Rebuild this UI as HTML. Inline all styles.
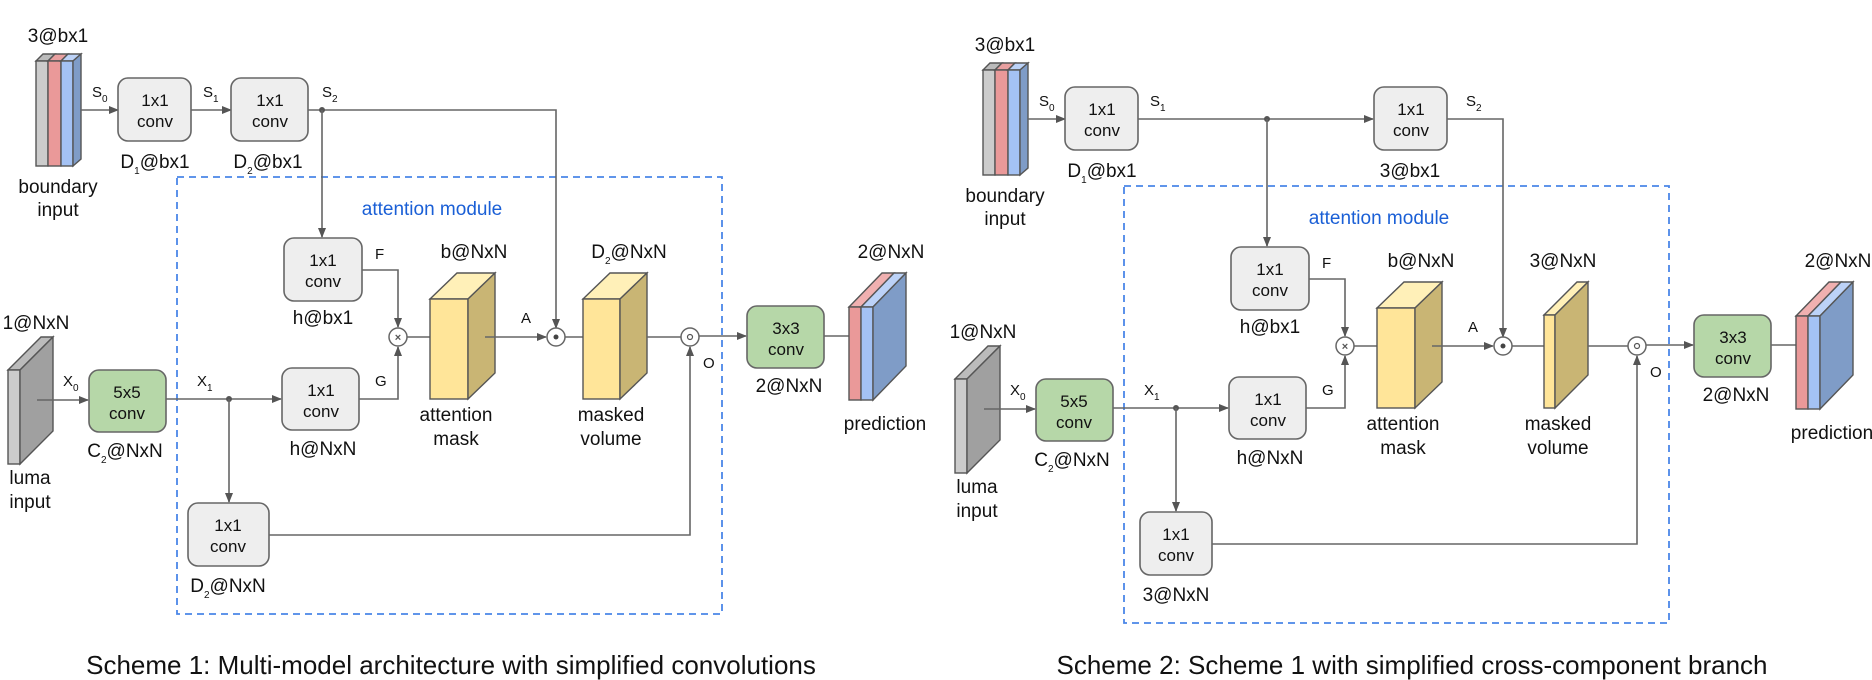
<!DOCTYPE html>
<html><head><meta charset="utf-8"><style>
html,body{margin:0;padding:0;background:#fff;}
svg{display:block;}
text{font-family:"Liberation Sans",Arial,sans-serif;fill:#111;}
.bx{fill:#eeeeee;stroke:#666;stroke-width:1.6;}
.gr{fill:#b6d7a8;stroke:#666;stroke-width:1.6;}
.ln{stroke:#666;stroke-width:1.6;fill:none;}
.sh{stroke:#555;stroke-width:1.4;}
.t{font-size:17px;text-anchor:middle;}
.l{font-size:19px;text-anchor:middle;}
.s{font-size:15px;}
.sub{font-size:10px;}
.cap{font-size:26px;text-anchor:middle;}
</style></head><body>
<svg width="1872" height="680" viewBox="0 0 1872 680" xmlns="http://www.w3.org/2000/svg">
<defs>
<marker id="ar" markerWidth="10" markerHeight="10" refX="9" refY="5" orient="auto" markerUnits="userSpaceOnUse">
<path d="M0,1 L10,5 L0,9 z" fill="#555"/></marker>
</defs>

<!-- ============ SCHEME 1 ============ -->
<g id="s1">
<rect x="177" y="177" width="545" height="437" fill="none" stroke="#4a86e8" stroke-width="1.8" stroke-dasharray="7,5"/>
<text x="432" y="215" class="l" style="fill:#1a5fd6">attention module</text>

<text x="58" y="42" class="l">3@bx1</text>
<g class="sh">
<polygon points="36,61 43,54 55,54 48,61" fill="#bbb"/>
<rect x="36" y="61" width="12" height="105" fill="#ccc"/>
<polygon points="48,61 55,54 68,54 61,61" fill="#e8a0a0"/>
<rect x="48" y="61" width="13" height="105" fill="#ea9999"/>
<polygon points="61,61 68,54 81,54 73,61" fill="#bcd2f7"/>
<rect x="61" y="61" width="12" height="105" fill="#a4c2f4"/>
<polygon points="73,61 81,54 81,159 73,166" fill="#7f9cc7"/>
</g>
<text x="58" y="193" class="l">boundary</text>
<text x="58" y="216" class="l">input</text>

<line x1="81" y1="110" x2="118" y2="110" class="ln" marker-end="url(#ar)"/>
<text x="92" y="97" class="s">S<tspan class="sub" dy="5">0</tspan></text>
<rect x="118" y="78" width="73" height="63" rx="10" class="bx"/>
<text x="155" y="106" class="t">1x1</text><text x="155" y="127" class="t">conv</text>
<text x="155" y="168" class="l">D<tspan class="sub" dy="6">1</tspan><tspan dy="-6">@bx1</tspan></text>
<line x1="191" y1="110" x2="231" y2="110" class="ln" marker-end="url(#ar)"/>
<text x="203" y="97" class="s">S<tspan class="sub" dy="5">1</tspan></text>
<rect x="231" y="78" width="77" height="63" rx="10" class="bx"/>
<text x="270" y="106" class="t">1x1</text><text x="270" y="127" class="t">conv</text>
<text x="268" y="168" class="l">D<tspan class="sub" dy="6">2</tspan><tspan dy="-6">@bx1</tspan></text>
<text x="322" y="97" class="s">S<tspan class="sub" dy="5">2</tspan></text>
<polyline points="308,110 556,110 556,328" class="ln" marker-end="url(#ar)"/>
<circle cx="322" cy="110" r="3" fill="#555"/>
<line x1="322" y1="110" x2="322" y2="237" class="ln" marker-end="url(#ar)"/>

<rect x="284" y="238" width="78" height="63" rx="10" class="bx"/>
<text x="323" y="266" class="t">1x1</text><text x="323" y="287" class="t">conv</text>
<text x="323" y="324" class="l">h@bx1</text>
<text x="375" y="259" class="s">F</text>
<polyline points="362,270 398,270 398,327" class="ln" marker-end="url(#ar)"/>

<text x="36" y="329" class="l">1@NxN</text>
<g class="sh">
<polygon points="8,370 41,337 53,337 20,370" fill="#bbb"/>
<rect x="8" y="370" width="12" height="94" fill="#ccc"/>
<polygon points="20,370 53,337 53,431 20,464" fill="#a0a0a0"/>
</g>
<text x="30" y="484" class="l">luma</text>
<text x="30" y="508" class="l">input</text>
<line x1="37" y1="400" x2="88" y2="400" class="ln" marker-end="url(#ar)"/>
<text x="63" y="386" class="s">X<tspan class="sub" dy="5">0</tspan></text>
<rect x="89" y="370" width="77" height="62" rx="10" class="gr"/>
<text x="127" y="398" class="t">5x5</text><text x="127" y="419" class="t">conv</text>
<text x="125" y="457" class="l">C<tspan class="sub" dy="6">2</tspan><tspan dy="-6">@NxN</tspan></text>
<line x1="166" y1="399" x2="281" y2="399" class="ln" marker-end="url(#ar)"/>
<text x="197" y="386" class="s">X<tspan class="sub" dy="5">1</tspan></text>
<circle cx="229" cy="399" r="3" fill="#555"/>
<line x1="229" y1="399" x2="229" y2="502" class="ln" marker-end="url(#ar)"/>

<rect x="282" y="368" width="77" height="62" rx="10" class="bx"/>
<text x="321" y="396" class="t">1x1</text><text x="321" y="417" class="t">conv</text>
<text x="323" y="455" class="l">h@NxN</text>
<text x="375" y="386" class="s">G</text>
<polyline points="359,399 398,399 398,347" class="ln" marker-end="url(#ar)"/>

<rect x="188" y="503" width="81" height="63" rx="10" class="bx"/>
<text x="228" y="531" class="t">1x1</text><text x="228" y="552" class="t">conv</text>
<text x="228" y="592" class="l">D<tspan class="sub" dy="6">2</tspan><tspan dy="-6">@NxN</tspan></text>
<polyline points="269,535 690,535 690,347" class="ln" marker-end="url(#ar)"/>

<line x1="407" y1="337" x2="430" y2="337" class="ln"/>
<circle cx="398" cy="337" r="9" fill="#fff" stroke="#666" stroke-width="1.5"/>
<text x="398" y="341" style="font-size:11px;text-anchor:middle;font-weight:bold;fill:#555">×</text>
<text x="474" y="258" class="l">b@NxN</text>
<g class="sh">
<polygon points="430,299 457,273 495,273 468,299" fill="#fff0b8"/>
<rect x="430" y="299" width="38" height="100" fill="#ffe599"/>
<polygon points="468,299 495,273 495,373 468,399" fill="#c9b574"/>
</g>
<text x="456" y="421" class="l">attention</text>
<text x="456" y="445" class="l">mask</text>
<text x="521" y="323" class="s">A</text>
<line x1="485" y1="337" x2="546" y2="337" class="ln" marker-end="url(#ar)"/>
<circle cx="556" cy="337" r="9" fill="#fff" stroke="#666" stroke-width="1.5"/>
<circle cx="556" cy="337" r="2.5" fill="#444"/>
<line x1="565" y1="337" x2="583" y2="337" class="ln"/>
<text x="629" y="258" class="l">D<tspan class="sub" dy="6">2</tspan><tspan dy="-6">@NxN</tspan></text>
<g class="sh">
<polygon points="583,299 610,273 647,273 620,299" fill="#fff0b8"/>
<rect x="583" y="299" width="37" height="100" fill="#ffe599"/>
<polygon points="620,299 647,273 647,373 620,399" fill="#c9b574"/>
</g>
<text x="611" y="421" class="l">masked</text>
<text x="611" y="445" class="l">volume</text>
<line x1="647" y1="337" x2="681" y2="337" class="ln"/>
<circle cx="690" cy="337" r="9" fill="#fff" stroke="#666" stroke-width="1.5"/>
<circle cx="690" cy="337" r="2.5" fill="none" stroke="#555" stroke-width="1.2"/>
<text x="703" y="368" class="s">O</text>
<line x1="699" y1="336" x2="746" y2="336" class="ln" marker-end="url(#ar)"/>
<rect x="747" y="306" width="77" height="62" rx="10" class="gr"/>
<text x="786" y="334" class="t">3x3</text><text x="786" y="355" class="t">conv</text>
<text x="789" y="392" class="l">2@NxN</text>
<line x1="824" y1="336" x2="849" y2="336" class="ln"/>
<text x="891" y="258" class="l">2@NxN</text>
<g class="sh">
<polygon points="849,307 882,273 894,273 861,307" fill="#f0b0b0"/>
<rect x="849" y="307" width="12" height="93" fill="#ea9999"/>
<polygon points="861,307 894,273 906,273 873,307" fill="#bcd2f7"/>
<rect x="861" y="307" width="12" height="93" fill="#a4c2f4"/>
<polygon points="873,307 906,273 906,366 873,400" fill="#7f9cc7"/>
</g>
<text x="885" y="430" class="l">prediction</text>
</g>

<text x="451" y="674" class="cap">Scheme 1: Multi-model architecture with simplified convolutions</text>

<!-- ============ SCHEME 2 ============ -->
<g transform="translate(947,9)">
<rect x="177" y="177" width="545" height="437" fill="none" stroke="#4a86e8" stroke-width="1.8" stroke-dasharray="7,5"/>
<text x="432" y="215" class="l" style="fill:#1a5fd6">attention module</text>

<text x="58" y="42" class="l">3@bx1</text>
<g class="sh">
<polygon points="36,61 43,54 55,54 48,61" fill="#bbb"/>
<rect x="36" y="61" width="12" height="105" fill="#ccc"/>
<polygon points="48,61 55,54 68,54 61,61" fill="#e8a0a0"/>
<rect x="48" y="61" width="13" height="105" fill="#ea9999"/>
<polygon points="61,61 68,54 81,54 73,61" fill="#bcd2f7"/>
<rect x="61" y="61" width="12" height="105" fill="#a4c2f4"/>
<polygon points="73,61 81,54 81,159 73,166" fill="#7f9cc7"/>
</g>
<text x="58" y="193" class="l">boundary</text>
<text x="58" y="216" class="l">input</text>

<line x1="81" y1="110" x2="118" y2="110" class="ln" marker-end="url(#ar)"/>
<text x="92" y="97" class="s">S<tspan class="sub" dy="5">0</tspan></text>
<rect x="118" y="78" width="73" height="63" rx="10" class="bx"/>
<text x="155" y="106" class="t">1x1</text><text x="155" y="127" class="t">conv</text>
<text x="155" y="168" class="l">D<tspan class="sub" dy="6">1</tspan><tspan dy="-6">@bx1</tspan></text>
<text x="203" y="97" class="s">S<tspan class="sub" dy="5">1</tspan></text>
<line x1="191" y1="110" x2="426" y2="110" class="ln" marker-end="url(#ar)"/>
<circle cx="320" cy="110" r="3" fill="#555"/>
<line x1="320" y1="110" x2="320" y2="237" class="ln" marker-end="url(#ar)"/>
<rect x="427" y="78" width="73" height="63" rx="10" class="bx"/>
<text x="464" y="106" class="t">1x1</text><text x="464" y="127" class="t">conv</text>
<text x="463" y="168" class="l">3@bx1</text>
<text x="519" y="97" class="s">S<tspan class="sub" dy="5">2</tspan></text>
<polyline points="500,110 556,110 556,328" class="ln" marker-end="url(#ar)"/>

<rect x="284" y="238" width="78" height="63" rx="10" class="bx"/>
<text x="323" y="266" class="t">1x1</text><text x="323" y="287" class="t">conv</text>
<text x="323" y="324" class="l">h@bx1</text>
<text x="375" y="259" class="s">F</text>
<polyline points="362,270 398,270 398,327" class="ln" marker-end="url(#ar)"/>

<text x="36" y="329" class="l">1@NxN</text>
<g class="sh">
<polygon points="8,370 41,337 53,337 20,370" fill="#bbb"/>
<rect x="8" y="370" width="12" height="94" fill="#ccc"/>
<polygon points="20,370 53,337 53,431 20,464" fill="#a0a0a0"/>
</g>
<text x="30" y="484" class="l">luma</text>
<text x="30" y="508" class="l">input</text>
<line x1="37" y1="400" x2="88" y2="400" class="ln" marker-end="url(#ar)"/>
<text x="63" y="386" class="s">X<tspan class="sub" dy="5">0</tspan></text>
<rect x="89" y="370" width="77" height="62" rx="10" class="gr"/>
<text x="127" y="398" class="t">5x5</text><text x="127" y="419" class="t">conv</text>
<text x="125" y="457" class="l">C<tspan class="sub" dy="6">2</tspan><tspan dy="-6">@NxN</tspan></text>
<line x1="166" y1="399" x2="281" y2="399" class="ln" marker-end="url(#ar)"/>
<text x="197" y="386" class="s">X<tspan class="sub" dy="5">1</tspan></text>
<circle cx="229" cy="399" r="3" fill="#555"/>
<line x1="229" y1="399" x2="229" y2="502" class="ln" marker-end="url(#ar)"/>

<rect x="282" y="368" width="77" height="62" rx="10" class="bx"/>
<text x="321" y="396" class="t">1x1</text><text x="321" y="417" class="t">conv</text>
<text x="323" y="455" class="l">h@NxN</text>
<text x="375" y="386" class="s">G</text>
<polyline points="359,399 398,399 398,347" class="ln" marker-end="url(#ar)"/>

<rect x="193" y="503" width="72" height="63" rx="10" class="bx"/>
<text x="229" y="531" class="t">1x1</text><text x="229" y="552" class="t">conv</text>
<text x="229" y="592" class="l">3@NxN</text>
<polyline points="265,535 690,535 690,347" class="ln" marker-end="url(#ar)"/>

<line x1="407" y1="337" x2="430" y2="337" class="ln"/>
<circle cx="398" cy="337" r="9" fill="#fff" stroke="#666" stroke-width="1.5"/>
<text x="398" y="341" style="font-size:11px;text-anchor:middle;font-weight:bold;fill:#555">×</text>
<text x="474" y="258" class="l">b@NxN</text>
<g class="sh">
<polygon points="430,299 457,273 495,273 468,299" fill="#fff0b8"/>
<rect x="430" y="299" width="38" height="100" fill="#ffe599"/>
<polygon points="468,299 495,273 495,373 468,399" fill="#c9b574"/>
</g>
<text x="456" y="421" class="l">attention</text>
<text x="456" y="445" class="l">mask</text>
<text x="521" y="323" class="s">A</text>
<line x1="485" y1="337" x2="546" y2="337" class="ln" marker-end="url(#ar)"/>
<circle cx="556" cy="337" r="9" fill="#fff" stroke="#666" stroke-width="1.5"/>
<circle cx="556" cy="337" r="2.5" fill="#444"/>
<line x1="565" y1="337" x2="597" y2="337" class="ln"/>
<text x="616" y="258" class="l">3@NxN</text>
<g class="sh">
<polygon points="597,306 630,273 641,273 608,306" fill="#fff0b8"/>
<rect x="597" y="306" width="11" height="93" fill="#ffe599"/>
<polygon points="608,306 641,273 641,366 608,399" fill="#c9b574"/>
</g>
<text x="611" y="421" class="l">masked</text>
<text x="611" y="445" class="l">volume</text>
<line x1="641" y1="337" x2="681" y2="337" class="ln"/>
<circle cx="690" cy="337" r="9" fill="#fff" stroke="#666" stroke-width="1.5"/>
<circle cx="690" cy="337" r="2.5" fill="none" stroke="#555" stroke-width="1.2"/>
<text x="703" y="368" class="s">O</text>
<line x1="699" y1="336" x2="746" y2="336" class="ln" marker-end="url(#ar)"/>
<rect x="747" y="306" width="77" height="62" rx="10" class="gr"/>
<text x="786" y="334" class="t">3x3</text><text x="786" y="355" class="t">conv</text>
<text x="789" y="392" class="l">2@NxN</text>
<line x1="824" y1="336" x2="849" y2="336" class="ln"/>
<text x="891" y="258" class="l">2@NxN</text>
<g class="sh">
<polygon points="849,307 882,273 894,273 861,307" fill="#f0b0b0"/>
<rect x="849" y="307" width="12" height="93" fill="#ea9999"/>
<polygon points="861,307 894,273 906,273 873,307" fill="#bcd2f7"/>
<rect x="861" y="307" width="12" height="93" fill="#a4c2f4"/>
<polygon points="873,307 906,273 906,366 873,400" fill="#7f9cc7"/>
</g>
<text x="885" y="430" class="l">prediction</text>
</g>

<text x="1412" y="674" class="cap">Scheme 2: Scheme 1 with simplified cross-component branch</text>
</svg>
</body></html>
